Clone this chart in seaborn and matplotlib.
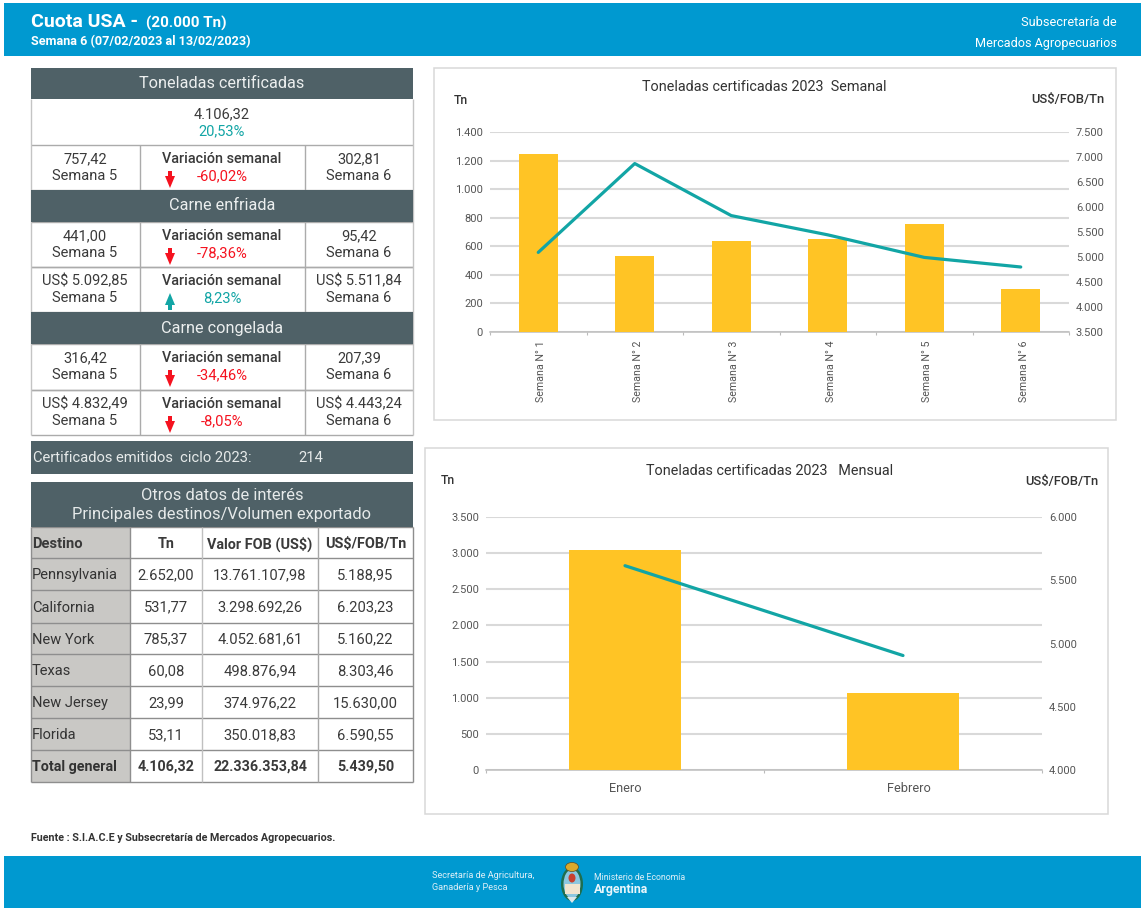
import matplotlib
matplotlib.use("Agg")
import matplotlib.pyplot as plt
import seaborn as sns
import pandas as pd
from matplotlib.patches import Rectangle, Polygon, Ellipse
from matplotlib.transforms import ScaledTranslation

# ---------- data ----------
semanas = ["Semana N° 1", "Semana N° 2", "Semana N° 3", "Semana N° 4", "Semana N° 5", "Semana N° 6"]
semana_tn = [1243, 532, 634, 652, 757.42, 302.81]
semana_fob = [5092, 6869, 5828, 5443, 4992, 4800]
meses = ["Enero", "Febrero"]
mes_tn = [3041, 1065]
mes_fob = [5615, 4905]

total_tn = "4.106,32"
total_pct = "20,53%"
sem5_labels = ["757,42", "441,00", "US$ 5.092,85", "316,42", "US$ 4.832,49"]
sem6_labels = ["302,81", "95,42", "US$ 5.511,84", "207,39", "US$ 4.443,24"]
variaciones = ["-60,02%", "-78,36%", "8,23%", "-34,46%", "-8,05%"]
certificados = "214"

dest_header = ["Destino", "Tn", "Valor FOB (US$)", "US$/FOB/Tn"]
destinos = ["Pennsylvania", "California", "New York", "Texas", "New Jersey", "Florida", "Total general"]
dest_tn = ["2.652,00", "531,77", "785,37", "60,08", "23,99", "53,11", "4.106,32"]
dest_fob = ["13.761.107,98", "3.298.692,26", "4.052.681,61", "498.876,94", "374.976,22", "350.018,83", "22.336.353,84"]
dest_ust = ["5.188,95", "6.203,23", "5.160,22", "8.303,46", "15.630,00", "6.590,55", "5.439,50"]

# ---------- style ----------
W, H = 1141, 909
BLUE = "#0099D0"
DARK = "#4F6167"
GOLD = "#FFC425"
TEAL = "#12A5A5"
RED = "#F5121F"
GRID = "#D9D9D9"
TXT = "#3A3A3A"
TICK = "#555555"

sns.set_theme(style="white")
plt.rcParams["font.family"] = ["Roboto", "DejaVu Sans"]

fig = plt.figure(figsize=(W / 100, H / 100), dpi=100, facecolor="white")
bg = fig.add_axes([0, 0, 1, 1], zorder=0)
bg.set_xlim(0, W)
bg.set_ylim(H, 0)
bg.axis("off")


def rect(l, t, r, b, fc="none", ec="none", lw=0, z=1):
    bg.add_patch(Rectangle((l, t), r - l, b - t, facecolor=fc, edgecolor=ec, linewidth=lw, zorder=z))


def hline(x0, x1, y, c="#ABABAB", lw=1.0):
    bg.plot([x0, x1], [y, y], color=c, lw=lw, zorder=3, solid_capstyle="butt")


def vline(x, y0, y1, c="#ABABAB", lw=1.0):
    bg.plot([x, x], [y0, y1], color=c, lw=lw, zorder=3, solid_capstyle="butt")


def txt(x, y, s, size=10.5, color=TXT, ha="center", weight="normal", **kw):
    bg.text(x, y + 1, s, fontsize=size, color=color, ha=ha, va="center", fontweight=weight, zorder=7, **kw)


def arrow(x, y0, up=False, color=RED):
    s = -1 if up else 1
    y1 = y0 + s * 17
    yh = y0 + s * 5
    bg.add_patch(Polygon([(x - 2, y0), (x + 2, y0), (x + 2, yh), (x + 5, yh), (x, y1), (x - 5, yh), (x - 2, yh)],
                         closed=True, facecolor=color, edgecolor="none", zorder=5))


# ---------- bands ----------
rect(4, 3, W, 56, fc=BLUE)
rect(4, 856, W, 908, fc=BLUE)
txt(31, 21, "Cuota USA -", size=14, color="white", ha="left", weight="bold")
txt(146, 22, "(20.000 Tn)", size=11, color="white", ha="left", weight="bold")
txt(31, 41, "Semana 6 (07/02/2023 al 13/02/2023)", size=9.1, color="white", ha="left", weight="bold")
txt(1117, 22, "Subsecretaría de", size=9.2, color="white", ha="right")
txt(1117, 42, "Mercados Agropecuarios", size=9.1, color="white", ha="right")

txt(432, 875, "Secretaría de Agricultura,", size=6.6, color="#DDEFF7", ha="left")
txt(432, 886, "Ganadería y Pesca", size=6.6, color="#DDEFF7", ha="left")
txt(594, 876, "Ministerio de Economía", size=6.3, color="#DDEFF7", ha="left")
txt(594, 889, "Argentina", size=8.9, color="#EAF6FB", ha="left", weight="bold")
# coat of arms
bg.add_patch(Ellipse((572, 884), 22, 34, fc="#1F6E4E", ec="none", zorder=4))
bg.add_patch(Ellipse((572, 884), 17, 29, fc="#8CC7E0", ec="none", zorder=5))
bg.add_patch(Rectangle((564.5, 884), 15, 10, fc="#F1E4CF", ec="none", zorder=5))
bg.add_patch(Ellipse((572, 878), 7, 9, fc="#C8402F", ec="none", zorder=6))
bg.add_patch(Ellipse((572, 867), 13, 9, fc="#D9A92B", ec="#5A4A20", lw=0.5, zorder=6))
bg.add_patch(Polygon([(567, 897), (577, 897), (572, 903)], closed=True, fc="#DCE7EA", ec="none", zorder=6))

txt(31, 837, "Fuente : S.I.A.C.E y Subsecretaría de Mercados Agropecuarios.", size=7.75, color="#333333", ha="left", weight="bold")

# ---------- upper table ----------
L, R = 31, 413
C1, C2 = 140, 305
CM = 222
for t, b, s in [(68, 99, "Toneladas certificadas"), (190, 222, "Carne enfriada"), (312, 344, "Carne congelada")]:
    rect(L, t, R, b, fc=DARK, z=4)
    txt(CM, (t + b) / 2 - 1, s, size=11.7, color="#ECEFEF")

txt(CM, 113, total_tn, size=10.5)
txt(CM, 130, total_pct, size=10.5, color=TEAL)

row_tops = [145, 222, 267, 344, 390]
row_bots = [190, 267, 312, 390, 435]
pct_colors = [RED, RED, TEAL, RED, RED]
for i, (t, b) in enumerate(zip(row_tops, row_bots)):
    txt(85, t + 13, sem5_labels[i])
    txt(85, t + 30, "Semana 5")
    txt(359, t + 13, sem6_labels[i])
    txt(359, t + 30, "Semana 6")
    txt(CM, t + 13, "Variación semanal", size=10.4, weight="medium")
    txt(CM, t + 30, variaciones[i], size=10.6, color=pct_colors[i])
    up = variaciones[i][0] != "-"
    arrow(170, t + 43 if up else t + 26, up=up, color=pct_colors[i])
    vline(C1, t, b)
    vline(C2, t, b)
    hline(L, R, b)
    hline(L, R, t)
vline(L, 99, 435, c="#C4C4C4")
vline(R, 99, 435, c="#C4C4C4")

# ---------- certificados ----------
rect(L, 441, R, 474, fc=DARK, z=4)
txt(33, 457, "Certificados emitidos  ciclo 2023:", size=10.6, color="#E6EAEA", ha="left")
txt(311, 457, certificados, size=10.6, color="#E6EAEA")

# ---------- destinations table ----------
rect(L, 482, R, 527, fc=DARK, z=4)
txt(CM, 495, "Otros datos de interés", size=11.85, color="#E6EAEA")
txt(CM, 513, "Principales destinos/Volumen exportado", size=11.85, color="#E6EAEA")
rect(L, 527, 130, 782, fc="#C9C8C5")
ys = [527, 558, 590, 623, 654, 686, 718, 750, 782]
for y in ys:
    hline(L, R, y, c="#8E8E8E")
for x, c in [(L, "#8E8E8E"), (130, "#8E8E8E"), (202, "#C0C0C0"), (318, "#A8A8A8"), (R, "#8E8E8E")]:
    vline(x, 527, 782, c=c)
cols_x = [166, 260, 365.5]
for x, s in zip([32] + cols_x, dest_header):
    txt(x, 543, s, size=10.4 if x != 32 else 10.6, weight="bold", ha="left" if x == 32 else "center")
for i in range(len(destinos)):
    yc = (ys[i + 1] + ys[i + 2]) / 2
    last = i == len(destinos) - 1
    w = "bold" if last else "normal"
    s = 10.3 if last else 10.6
    txt(32, yc, destinos[i], size=10.3 if last else 10.5, weight=w, ha="left", color="#333333")
    txt(cols_x[0], yc, dest_tn[i], weight=w, size=s)
    txt(cols_x[1], yc, dest_fob[i], weight=w, size=s)
    txt(cols_x[2], yc, dest_ust[i], weight=w, size=s)


# ---------- charts ----------
def combo(box, area, cats, tn, fob, ymax, ystep, rlim, rstep, width, rot, lsize, label_shift):
    rect(*box, fc="white", ec="#D8D8D8", lw=1.1)
    l, t, r, b = area
    ax = fig.add_axes([l / W, 1 - b / H, (r - l) / W, (b - t) / H], zorder=2)
    ax.patch.set_alpha(0)
    df = pd.DataFrame({"cat": cats, "tn": tn, "fob": fob})
    sns.barplot(data=df, x="cat", y="tn", color=GOLD, saturation=1, width=width, linewidth=0, ax=ax, zorder=3)
    ax.set_xlim(-0.5, len(cats) - 0.5)
    ax.set_ylim(0, ymax)
    ax.set_yticks(range(0, ymax + 1, ystep))
    ax.set_yticklabels([f"{v:,}".replace(",", ".") for v in range(0, ymax + 1, ystep)])
    ax.yaxis.grid(True, color=GRID, lw=1.5, zorder=0)
    ax.set_axisbelow(True)
    ax.set_xlabel("")
    ax.set_ylabel("")
    ax.set_xticks(range(len(cats)))
    ax.set_xticklabels(cats, rotation=rot, fontsize=lsize, color=TICK)
    ax.set_xticks([i - 0.5 for i in range(len(cats) + 1)], minor=True)
    ax.tick_params(axis="x", which="major", length=0, pad=6 if rot else 9)
    ax.tick_params(axis="x", which="minor", length=2.5, width=0.8, color="#BBBBBB", bottom=True)
    ax.tick_params(axis="y", length=0, labelsize=8, labelcolor=TICK, pad=5)
    for lab, dx in zip(ax.get_xticklabels(), label_shift):
        lab.set_transform(lab.get_transform() + ScaledTranslation(dx / 100, 0, fig.dpi_scale_trans))
    for k, sp in ax.spines.items():
        sp.set_visible(k == "bottom")
    ax.spines["bottom"].set_color("#BDBDBD")
    ax.spines["bottom"].set_linewidth(1.1)

    tw = ax.twinx()
    tw.patch.set_alpha(0)
    sns.lineplot(data=df, x="cat", y="fob", color=TEAL, lw=2.3, sort=False, ax=tw, zorder=5)
    tw.set_ylim(*rlim)
    rt = list(range(rlim[0], rlim[1] + 1, rstep))
    tw.set_yticks(rt)
    tw.set_yticklabels([f"{v:,}".replace(",", ".") for v in rt])
    tw.set_ylabel("")
    tw.tick_params(axis="y", length=0, labelsize=8, labelcolor=TICK, pad=5)
    tw.grid(False)
    for sp in tw.spines.values():
        sp.set_visible(False)
    return ax


combo((434, 68, 1116, 420), (490, 132, 1069, 332), semanas, semana_tn, semana_fob,
      1400, 200, (3500, 7500), 500, 0.4, 90, 7.7, [3] * 6)
txt(764, 86, "Toneladas certificadas 2023  Semanal", size=10.4, color="#333333")
txt(454, 99, "Tn", size=8.8, ha="left", weight="medium", color="#333333")
txt(1104, 99, "US$/FOB/Tn", size=9.4, ha="right", weight="medium", color="#333333")

combo((425, 448, 1108, 814), (486, 517, 1042, 770), meses, mes_tn, mes_fob,
      3500, 500, (4000, 6000), 500, 0.4, 0, 9.2, [0, 6])
txt(770, 470, "Toneladas certificadas 2023   Mensual", size=10.4, color="#333333")
txt(441, 480, "Tn", size=8.8, ha="left", weight="medium", color="#333333")
txt(1098, 480, "US$/FOB/Tn", size=9.4, ha="right", weight="medium", color="#333333")

fig.savefig("out.png", dpi=100, facecolor="white")
